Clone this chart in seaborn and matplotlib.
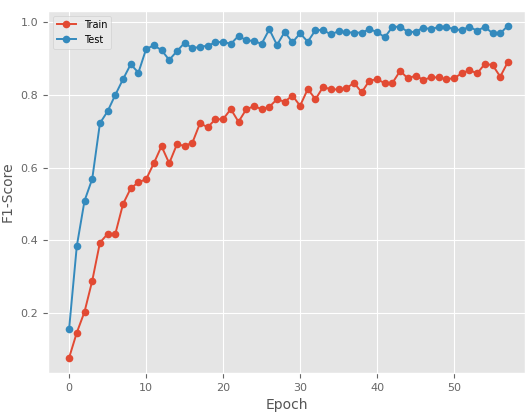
import numpy as np
import pandas as pd
import matplotlib
matplotlib.use("Agg")
import matplotlib.pyplot as plt
import seaborn as sns

# F1-score per epoch
epochs = list(range(58))
train_f1 = [0.078, 0.147, 0.204, 0.289, 0.394, 0.418, 0.418, 0.500, 0.543, 0.560,
            0.568, 0.612, 0.659, 0.612, 0.664, 0.660, 0.668, 0.722, 0.711, 0.733,
            0.733, 0.761, 0.726, 0.760, 0.769, 0.761, 0.767, 0.788, 0.781, 0.798,
            0.770, 0.816, 0.788, 0.822, 0.815, 0.815, 0.818, 0.833, 0.807, 0.839,
            0.843, 0.832, 0.833, 0.866, 0.845, 0.853, 0.841, 0.848, 0.848, 0.843,
            0.846, 0.859, 0.868, 0.859, 0.885, 0.882, 0.850, 0.891]
test_f1 = [0.158, 0.385, 0.509, 0.569, 0.722, 0.755, 0.800, 0.843, 0.884, 0.861,
           0.926, 0.936, 0.923, 0.896, 0.920, 0.943, 0.928, 0.932, 0.935, 0.944,
           0.946, 0.940, 0.962, 0.950, 0.948, 0.940, 0.980, 0.937, 0.973, 0.944,
           0.969, 0.946, 0.978, 0.978, 0.966, 0.975, 0.972, 0.971, 0.971, 0.980,
           0.973, 0.958, 0.987, 0.987, 0.973, 0.973, 0.985, 0.980, 0.987, 0.987,
           0.980, 0.978, 0.987, 0.976, 0.987, 0.969, 0.969, 0.990]

df = pd.DataFrame({
    'Epoch': epochs * 2,
    'F1': train_f1 + test_f1,
    'Split': ['Train'] * len(epochs) + ['Test'] * len(epochs),
})

plt.style.use('ggplot')
plt.rcParams['font.family'] = ['DejaVu Sans']

fig = plt.figure(figsize=(5.27, 4.13), dpi=100)
ax = fig.add_axes([0.091, 0.097, 0.905, 0.876])

sns.lineplot(data=df, x='Epoch', y='F1', hue='Split',
             palette={'Train': '#E24A33', 'Test': '#348ABD'},
             marker='o', markersize=5.5, markeredgewidth=0, linewidth=1.4, ax=ax)

ax.set_xlim(-2.75, 59.2)
ax.set_ylim(0.036, 1.03)
ax.set_xticks([0, 10, 20, 30, 40, 50])
ax.set_yticks([0.2, 0.4, 0.6, 0.8, 1.0])
ax.tick_params(labelsize=8, colors='#666666')
ax.set_xlabel('Epoch', fontsize=10, color='#555555')
ax.set_ylabel('F1-Score', fontsize=10, color='#555555')
leg = ax.legend(loc='upper left', fontsize=7, title=None)
leg.get_frame().set_facecolor('#EBEBEB')

fig.savefig('out.png', dpi=100)
